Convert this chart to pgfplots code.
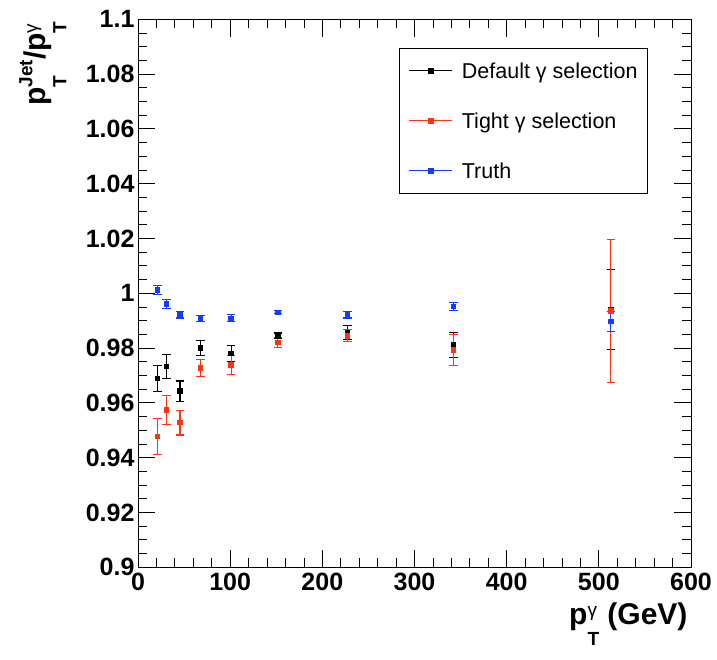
\documentclass[border=0pt]{standalone}
\usepackage{pgfplots}
\pgfplotsset{compat=1.18}
\usepackage{pgfplotstable}
\usepackage{fontspec}
\setmainfont{Liberation Sans}
\definecolor{rootred}{RGB}{255,51,20}
\definecolor{rootblue}{RGB}{20,60,255}

\pgfplotstableread{
x y ey
21 0.9690 0.0048
31 0.9733 0.0043
45.6 0.9643 0.0037
67.7 0.9801 0.0028
101 0.9781 0.0030
151.7 0.9845 0.0010
227 0.9858 0.0026
342 0.9812 0.0046
513 0.9941 0.0145
}\defaultsel
\pgfplotstableread{
x y ey
21 0.9477 0.0065
31 0.9574 0.0054
45.6 0.9528 0.0045
67.7 0.9727 0.0030
101 0.9739 0.0034
151.7 0.9821 0.0018
227 0.9845 0.0022
342 0.9793 0.0055
513 0.9936 0.0260
}\tightsel
\pgfplotstableread{
x y ey
21 1.0012 0.0016
31 0.9961 0.0016
45.6 0.9921 0.0011
67.7 0.9909 0.0011
101 0.9909 0.0012
151.7 0.9931 0.0005
227 0.9921 0.0011
342 0.9951 0.0014
513 0.9898 0.0037
}\truth

\newcommand{\scr}{\fontsize{19}{19}\selectfont}
\begin{document}
\begin{tikzpicture}
\path[use as bounding box] (-138pt,-92.7pt) rectangle (579pt,567.3pt);
\begin{axis}[
  scale only axis,
  width=553pt, height=548pt,
  xmin=0, xmax=600, ymin=0.9, ymax=1.1,
  xtick={0,100,...,600},
  ytick={0.9,0.92,...,1.1001},
  minor x tick num=4,
  minor y tick num=3,
  tick align=inside,
  xtick pos=both, ytick pos=both,
  major tick length=17.5pt,
  minor tick length=9pt,
  axis line style={line width=0.8pt},
  every tick/.style={line width=0.8pt, black},
  /pgf/number format/assume math mode=true,
  yticklabel style={/pgf/number format/fixed, /pgf/number format/precision=2},
  xticklabel style={yshift=-2pt},
  ticklabel style={font=\fontsize{25}{25}\selectfont\bfseries},
  xlabel={\bfseries\fontsize{30}{30}\selectfont p\rlap{\raisebox{8pt}{\mdseries\scr γ}}\raisebox{-21pt}{\scr T} (GeV)},
  ylabel={\bfseries\fontsize{30}{30}\selectfont p\rlap{\raisebox{-21pt}{\scr T}}\raisebox{13pt}{\scr Jet}/p\rlap{\raisebox{8pt}{\mdseries\scr γ}}\raisebox{-21pt}{\scr T}},
  every axis x label/.style={at={(axis description cs:1,-0.1045)}, anchor=base east},
  every axis y label/.style={at={(axis description cs:-0.1675,1.002)}, rotate=90, anchor=base east},
  legend cell align=left,
  legend image code/.code={\draw[#1, sharp plot, mark repeat=2, mark phase=2] plot coordinates {(0pt,0pt) (21.5pt,0pt) (43pt,0pt)};},
  legend style={at={(rel axis cs:0.9222,0.9476)}, anchor=north east,
    draw=black, line width=0.8pt, fill=white,
    inner xsep=10pt, inner ysep=2.5pt, row sep=10pt,
    font=\fontsize{21.5}{21.5}\selectfont,
    nodes={inner sep=0pt, text height=27.5pt, text depth=12.5pt},
    /tikz/every odd column/.append style={column sep=9pt},
    /tikz/every even column/.append style={column sep=12pt}},
  error bars/y dir=both, error bars/y explicit,
  error bars/error bar style={line width=1.1pt},
  error bars/error mark options={mark size=4.3pt, line width=1.1pt, rotate=90},
]
\addplot[black, only marks, mark=square*, mark size=2.2pt, line width=0.9pt] table[x=x, y=y, y error=ey] {\defaultsel};
\addlegendentry{Default γ selection}
\addplot[rootred, only marks, mark=square*, mark size=2.2pt, line width=0.9pt] table[x=x, y=y, y error=ey] {\tightsel};
\addlegendentry{Tight γ selection}
\addplot[rootblue, only marks, mark=square*, mark size=2.2pt, line width=0.9pt] table[x=x, y=y, y error=ey] {\truth};
\addlegendentry{Truth}
\end{axis}
\end{tikzpicture}
\end{document}
